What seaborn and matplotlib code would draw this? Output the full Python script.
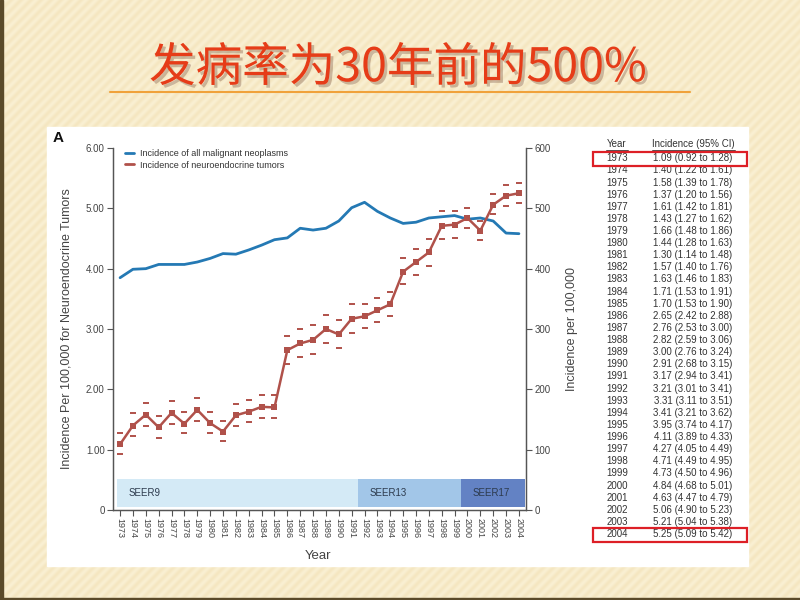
import matplotlib.pyplot as plt
import matplotlib.patheffects as pe
import numpy as np
import seaborn as sns
from matplotlib.lines import Line2D
from matplotlib.patches import Rectangle

# data
years = list(range(1973, 2005))
net_rate = [1.09, 1.40, 1.58, 1.37, 1.61, 1.43, 1.66, 1.44, 1.30, 1.57, 1.63, 1.71,
            1.70, 2.65, 2.76, 2.82, 3.00, 2.91, 3.17, 3.21, 3.31, 3.41, 3.95, 4.11,
            4.27, 4.71, 4.73, 4.84, 4.63, 5.06, 5.21, 5.25]
net_low = [0.92, 1.22, 1.39, 1.20, 1.42, 1.27, 1.48, 1.28, 1.14, 1.40, 1.46, 1.53,
           1.53, 2.42, 2.53, 2.59, 2.76, 2.68, 2.94, 3.01, 3.11, 3.21, 3.74, 3.89,
           4.05, 4.49, 4.50, 4.68, 4.47, 4.90, 5.04, 5.09]
net_high = [1.28, 1.61, 1.78, 1.56, 1.81, 1.62, 1.86, 1.63, 1.48, 1.76, 1.83, 1.91,
            1.90, 2.88, 3.00, 3.06, 3.24, 3.15, 3.41, 3.41, 3.51, 3.62, 4.17, 4.33,
            4.49, 4.95, 4.96, 5.01, 4.79, 5.23, 5.38, 5.42]
all_rate = [385, 399, 400, 407, 407, 407, 411, 417, 425, 424, 431, 439,
            448, 451, 467, 464, 467, 479, 501, 510, 495, 484, 475, 477,
            484, 486, 488, 482, 484, 479, 459, 458]

seer_labels = ["SEER9", "SEER13", "SEER17"]
seer_start = [1972.75, 1991.5, 1999.5]
seer_end = [1991.5, 1999.5, 2004.5]
seer_colors = ["#d4eaf6", "#a2c6e8", "#6382c4"]

left_ticks = [0, 1, 2, 3, 4, 5, 6]
left_labels = ["0", "1.00", "2.00", "3.00", "4.00", "5.00", "6.00"]
right_ticks = [0, 100, 200, 300, 400, 500, 600]

title_text = "发病率为30年前的500%"

RED = "#b0514a"
BLUE = "#2479b4"
GREY = "#444444"


def main() -> None:
    sns.set_theme(style="white")
    plt.rcParams["font.family"] = ["Liberation Sans", "Noto Sans CJK SC", "DejaVu Sans"]

    fig = plt.figure(figsize=(8, 6), dpi=100)

    # slide background in pixel coordinates
    bg = fig.add_axes([0, 0, 1, 1])
    bg.set_xlim(0, 800)
    bg.set_ylim(600, 0)
    bg.axis("off")
    yy, xx = np.mgrid[0:600, 0:800]
    stripes = 0.5 + 0.5 * np.cos(2 * np.pi * (xx + yy) / 10.0)
    c1 = np.array([249, 239, 210]) / 255
    c2 = np.array([242, 225, 182]) / 255
    img = c1 * (1 - stripes[..., None] * 0.6) + c2 * (stripes[..., None] * 0.6)
    bg.imshow(img, extent=(0, 800, 600, 0), aspect="auto", zorder=0)
    bg.add_patch(Rectangle((0, 0), 2.5, 600, color="#5a4a2a", zorder=1))
    bg.add_patch(Rectangle((0, 597.5), 800, 2.5, color="#5a4a2a", zorder=1))
    bg.add_patch(Rectangle((47, 127), 701, 439, color="white", zorder=1))
    bg.plot([110, 690], [92, 92], color="#f0a23a", lw=1.5, zorder=2)

    bg.text(398, 68, title_text, ha="center", va="center", fontsize=33.5,
            color="#e63c18", family=["Noto Sans CJK SC", "DejaVu Sans"], zorder=3,
            path_effects=[pe.withSimplePatchShadow(offset=(2, -2), alpha=0.25)])
    bg.text(53, 138, "A", fontsize=11, fontweight="bold", color="#111111",
            va="center", zorder=3)

    # table on the right
    bg.text(617, 144, "Year", ha="center", va="center", fontsize=7, color="#333333", zorder=3)
    bg.text(693, 144, "Incidence (95% CI)", ha="center", va="center", fontsize=7,
            color="#333333", zorder=3)
    bg.plot([606, 628], [149.5, 149.5], color="#333333", lw=0.6, zorder=3)
    bg.plot([652, 735], [149.5, 149.5], color="#333333", lw=0.6, zorder=3)
    row_y = [158.3 + i * 12.12 for i in range(len(years))]
    for y0, yr, v, lo, hi in zip(row_y, years, net_rate, net_low, net_high):
        bg.text(617, y0, str(yr), ha="center", va="center", fontsize=7,
                color="#333333", zorder=3)
        bg.text(693, y0, f"{v:.2f} ({lo:.2f} to {hi:.2f})", ha="center",
                va="center", fontsize=7, color="#333333", zorder=3)
    for y0 in (row_y[0], row_y[-1]):
        bg.add_patch(Rectangle((593, y0 - 6.5), 154, 14.5, fill=False,
                               edgecolor="#dd1f26", lw=1.6, zorder=4))

    # main chart
    ax = fig.add_axes([113 / 800, 1 - 510 / 600, 413 / 800, 362 / 600])
    ax2 = ax.twinx()
    ax.set_zorder(ax2.get_zorder() + 1)
    ax.patch.set_visible(False)
    ax2.patch.set_facecolor("white")

    ax.bar(x=seer_start, height=0.47, width=np.subtract(seer_end, seer_start),
           bottom=0.05, align="edge", color=seer_colors, linewidth=0, zorder=1)
    for lab, x0 in zip(seer_labels, seer_start):
        ax.text(x0 + 0.9, 0.29, lab, fontsize=7, color="#2d3b4e", va="center")

    sns.lineplot(x=years, y=all_rate, color=BLUE, lw=2, ax=ax2)
    sns.lineplot(x=years, y=net_rate, color=RED, lw=1.8, marker="s", markersize=4,
                 markeredgewidth=0, ax=ax, zorder=3)
    ax.plot(years, net_low, ls="none", marker="_", ms=4, mew=1.4, color=RED, zorder=3)
    ax.plot(years, net_high, ls="none", marker="_", ms=4, mew=1.4, color=RED, zorder=3)

    ax.set_xlim(1972.45, 2004.55)
    ax.set_ylim(0, 6)
    ax2.set_ylim(0, 600)
    ax.set_xticks(years)
    ax.set_xticklabels([str(y) for y in years], rotation=270, fontsize=6.5, color=GREY)
    ax.set_yticks(left_ticks)
    ax.set_yticklabels(left_labels, fontsize=7, color=GREY)
    ax2.set_yticks(right_ticks)
    ax2.set_yticklabels([str(t) for t in right_ticks], fontsize=7, color=GREY)

    for a in (ax, ax2):
        a.tick_params(direction="out", length=4, width=0.8, color="#555555", pad=2)
        a.spines["top"].set_visible(False)
        for s in ("left", "right", "bottom"):
            a.spines[s].set_color("#555555")
            a.spines[s].set_linewidth(0.9)
    ax.tick_params(axis="y", left=True, right=False)
    ax.tick_params(axis="x", bottom=True)
    ax2.tick_params(axis="y", right=True)

    ax.set_ylabel("Incidence Per 100,000 for Neuroendocrine Tumors", fontsize=9, color=GREY)
    ax.yaxis.set_label_coords(-0.097, 0.5)
    ax2.set_ylabel("Incidence per 100,000", fontsize=9, color=GREY, rotation=90)
    ax2.yaxis.set_label_coords(1.097, 0.5)
    ax.set_xlabel("Year", fontsize=9.5, color=GREY)
    ax.xaxis.set_label_coords(0.496, -0.11)

    handles = [Line2D([], [], color=BLUE, lw=2), Line2D([], [], color=RED, lw=2)]
    ax.legend(handles, ["Incidence of all malignant neoplasms",
                        "Incidence of neuroendocrine tumors"],
              loc="upper left", bbox_to_anchor=(0.01, 1.02), frameon=False,
              fontsize=6.5, handlelength=1.0, handletextpad=0.6, labelspacing=0.3,
              labelcolor="#333333")

    fig.savefig("out.png", dpi=100)
    plt.close(fig)


if __name__ == "__main__":
    main()
